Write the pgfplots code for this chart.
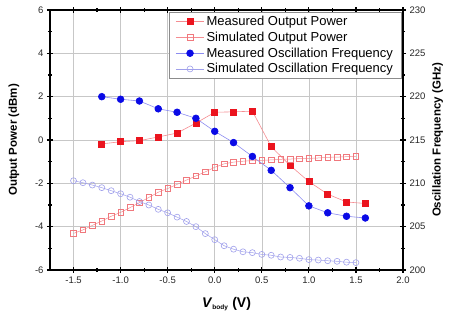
\documentclass[border=0pt]{standalone}
\usepackage{fontspec}
\setmainfont{Liberation Sans}
\usepackage{pgfplots}
\pgfplotsset{compat=1.18}
\definecolor{mred}{RGB}{235,20,30}
\definecolor{lred}{RGB}{245,140,145}
\definecolor{sred}{RGB}{240,120,125}
\definecolor{mblue}{RGB}{10,10,230}
\definecolor{lblue}{RGB}{140,140,240}
\definecolor{sblue}{RGB}{160,160,235}
\begin{document}
\begin{tikzpicture}
\pgfplotsset{
  common/.style={
    scale only axis, width=353pt, height=260pt,
    xmin=-1.75, xmax=2.0,
    axis line style={line width=1.4pt},
    every tick/.style={line width=1.2pt, black},
    major tick length=6pt, minor tick length=4pt,
    tick align=center,
    ticklabel style={font=\fontsize{9.5}{10}\selectfont, text=black!85},
    /pgf/number format/assume math mode=true,
    label style={font=\fontsize{11.5}{13}\selectfont\bfseries},
  }
}
\begin{axis}[common,
  at={(0,0)}, anchor=south west,
  ymin=-6, ymax=6,
  xtick={-1.5,-1,...,2}, minor xtick={-1.25,-0.75,...,1.75},
  ytick={-6,-4,...,6}, minor ytick={-5,-3,...,5},
  ytick pos=left, xtick pos=both,
  xticklabel style={/pgf/number format/.cd, fixed, fixed zerofill, precision=1},
  grid=major, grid style={line width=0.6pt, black!22},
  ylabel={Output Power (dBm)}, ylabel shift=9pt,
  xlabel={\fontsize{14}{15}\selectfont\textit{V}\textsubscript{\fontsize{6.5}{7}\selectfont body} (V)},
  xlabel shift=7pt,
]
\addplot[lred, line width=0.6pt, mark=square*, mark size=3pt, mark options={solid, draw=mred, fill=mred}] coordinates {
(-1.2,-0.18) (-1.0,-0.08) (-0.8,-0.03) (-0.6,0.14) (-0.4,0.32) (-0.2,0.78) (0.0,1.28) (0.2,1.30) (0.4,1.33) (0.6,-0.31) (0.8,-1.17) (1.0,-1.92) (1.2,-2.50) (1.4,-2.86) (1.6,-2.93)};
\addplot[lred, line width=0.5pt, mark=square, mark size=2.8pt, mark options={solid, draw=sred, fill=white, line width=0.6pt}] coordinates {
(-1.5,-4.31) (-1.4,-4.15) (-1.3,-3.94) (-1.2,-3.74) (-1.1,-3.52) (-1.0,-3.34) (-0.9,-3.12) (-0.8,-2.89) (-0.7,-2.65) (-0.6,-2.41) (-0.5,-2.24) (-0.4,-2.05) (-0.3,-1.85) (-0.2,-1.66) (-0.1,-1.47) (0.0,-1.26) (0.1,-1.10) (0.2,-1.02) (0.3,-0.98) (0.4,-0.95) (0.5,-0.94) (0.6,-0.92) (0.7,-0.89) (0.8,-0.88) (0.9,-0.86) (1.0,-0.85) (1.1,-0.83) (1.2,-0.80) (1.3,-0.79) (1.4,-0.77) (1.5,-0.75)};
\end{axis}
\begin{axis}[common,
  at={(0,0)}, anchor=south west,
  ymin=200, ymax=230,
  hide x axis, axis y line*=right,
  ytick={200,205,...,230}, minor ytick={202.5,207.5,...,227.5},
  ytick pos=right,
  ylabel={Oscillation Frequency (GHz)},
  legend style={at={(rel axis cs:0.995,0.992)}, anchor=north east,
    draw=black!45, line width=0.5pt, fill=white,
    font=\fontsize{13}{14}\selectfont, row sep=0.8pt, inner ysep=2pt, inner xsep=6pt},
  legend cell align=left,
  legend image code/.code={\draw[mark repeat=2,mark phase=2] plot coordinates {(0cm,0cm) (0.5cm,0cm) (1cm,0cm)};},
]
\addlegendimage{lred, line width=0.6pt, mark=square*, mark size=3pt, mark options={solid, draw=mred, fill=mred}}
\addlegendentry{Measured Output Power}
\addlegendimage{lred, line width=0.6pt, mark=square, mark size=2.8pt, mark options={solid, draw=sred, fill=white, line width=0.6pt}}
\addlegendentry{Simulated Output Power}
\addplot[lblue, line width=0.6pt, mark=*, mark size=3.4pt, mark options={solid, draw=mblue, fill=mblue}] coordinates {
(-1.2,220.0) (-1.0,219.7) (-0.8,219.5) (-0.6,218.6) (-0.4,218.2) (-0.2,217.5) (0.0,216.0) (0.2,214.7) (0.4,213.1) (0.6,211.5) (0.8,209.5) (1.0,207.4) (1.2,206.6) (1.4,206.2) (1.6,206.0)};
\addlegendentry{Measured Oscillation Frequency}
\addplot[sblue, line width=0.5pt, mark=o, mark size=3pt, mark options={solid, draw=sblue, fill=white, line width=0.6pt}] coordinates {
(-1.5,210.3) (-1.4,210.07) (-1.3,209.8) (-1.2,209.5) (-1.1,209.15) (-1.0,208.8) (-0.9,208.4) (-0.8,207.9) (-0.7,207.5) (-0.6,207.0) (-0.5,206.6) (-0.4,206.1) (-0.3,205.6) (-0.2,205.0) (-0.1,204.2) (0.0,203.5) (0.1,202.8) (0.2,202.4) (0.3,202.1) (0.4,202.0) (0.5,201.8) (0.6,201.7) (0.7,201.5) (0.8,201.45) (0.9,201.35) (1.0,201.2) (1.1,201.15) (1.2,201.07) (1.3,201.0) (1.4,200.9) (1.5,200.85)};
\addlegendentry{Simulated Oscillation Frequency}
\end{axis}
\path[use as bounding box] (-50pt,-50pt) rectangle (400pt,270pt);
\end{tikzpicture}
\end{document}
